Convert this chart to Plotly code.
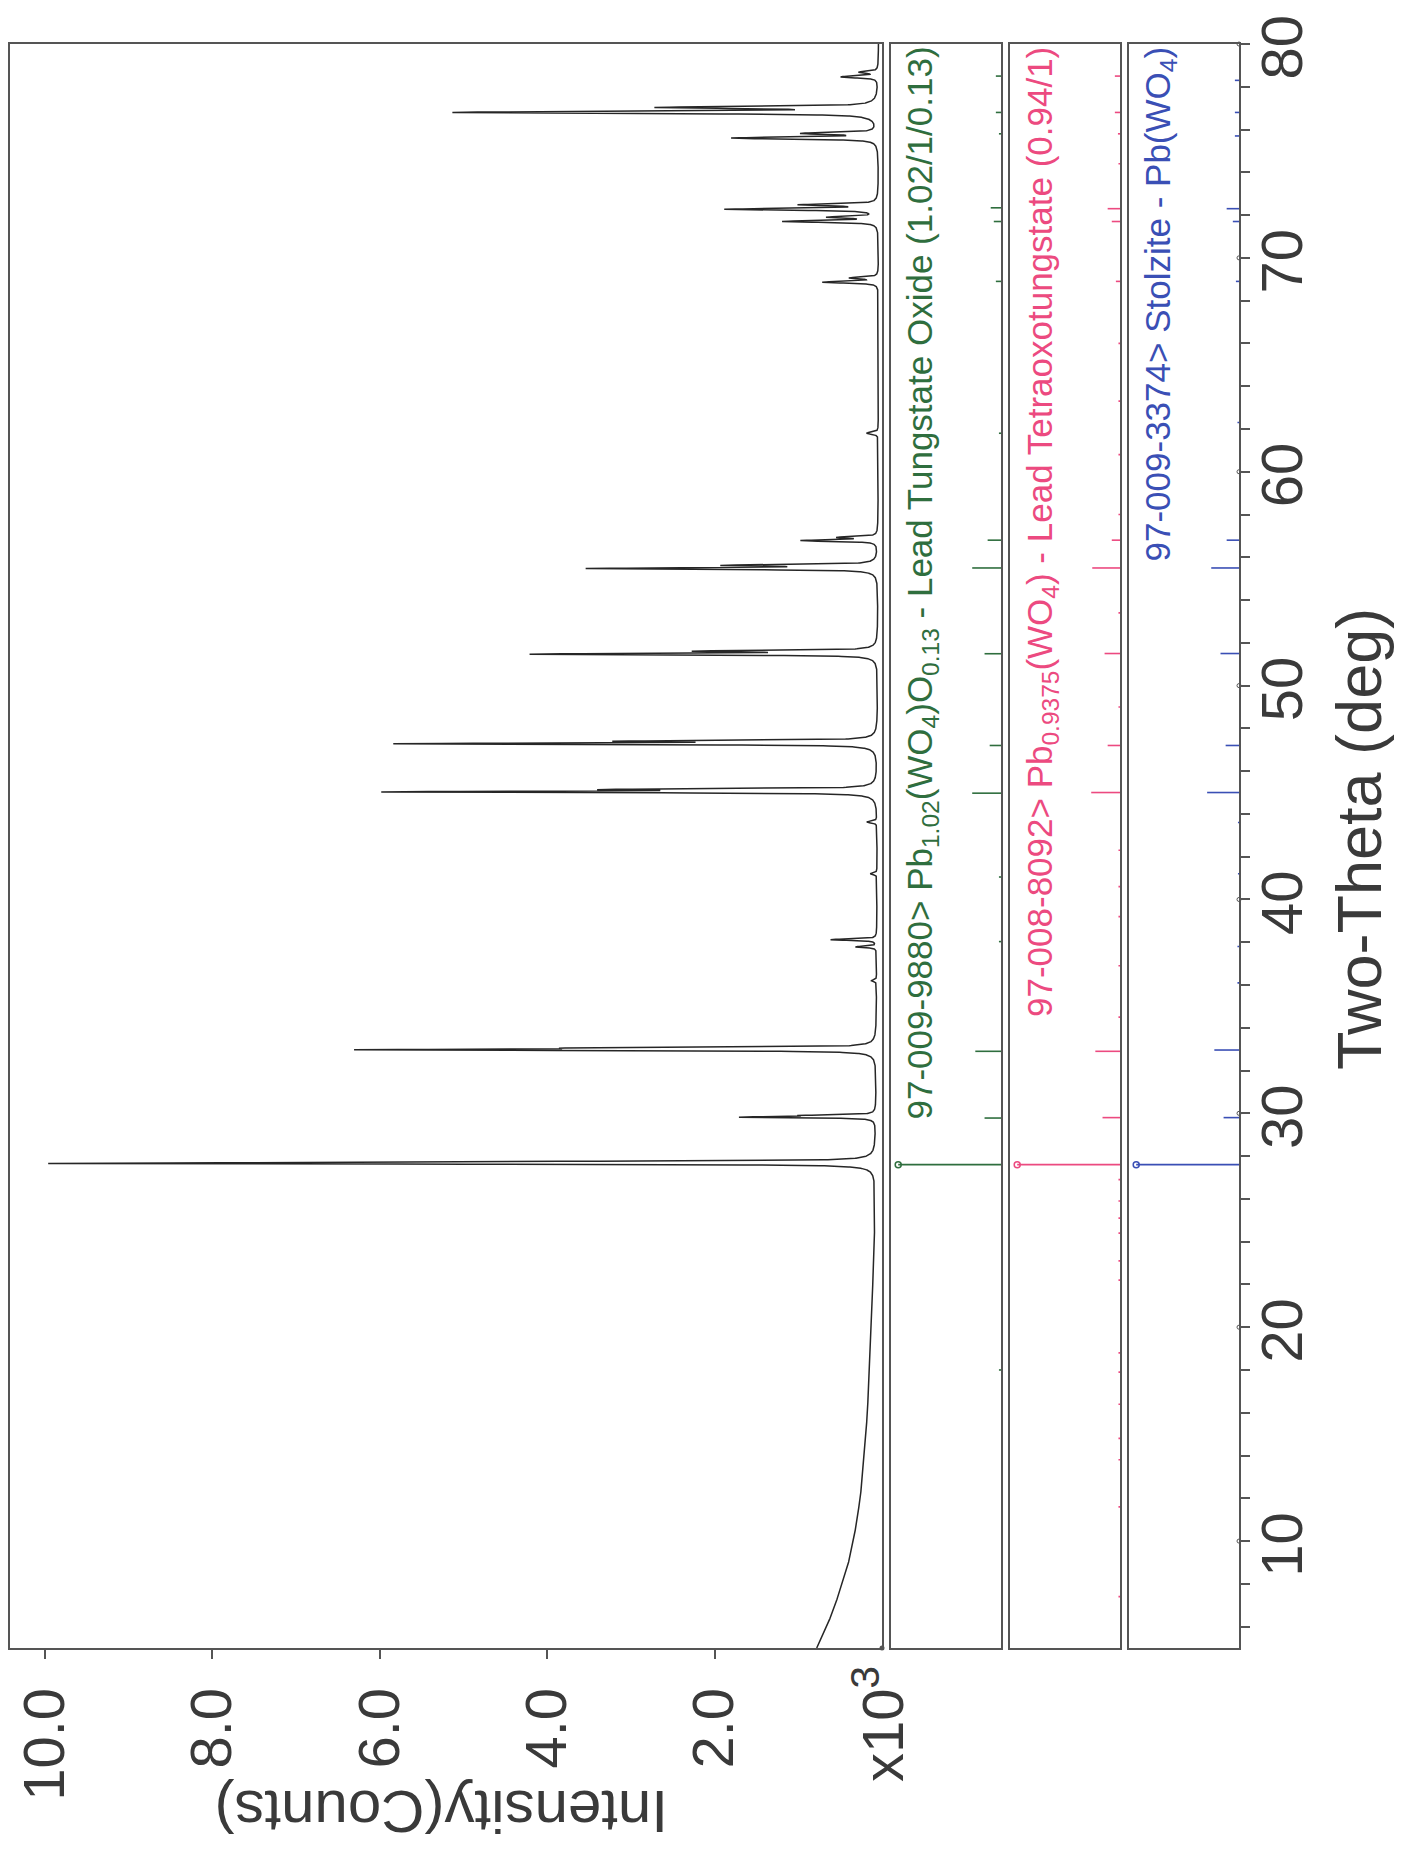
import numpy as np
import plotly.graph_objects as go

# ---------------- data ----------------
# measured pattern: background points (2-theta deg, counts x10^3)
bg_2theta = [5, 6, 7, 8, 9, 10, 12, 14, 16, 18, 20, 22, 24, 27, 30, 35, 40, 50, 60, 70, 80]
bg_counts = [0.78, 0.66, 0.56, 0.48, 0.40, 0.34, 0.26, 0.21, 0.175, 0.15, 0.13, 0.11,
             0.09, 0.08, 0.07, 0.065, 0.06, 0.05, 0.045, 0.04, 0.04]

# measured peaks (Ka1 and Ka2 components): position, height (x10^3 counts), FWHM (deg)
peak_2theta = [27.66, 27.73, 29.82, 29.90, 32.97, 33.05, 36.20, 37.78, 38.12, 41.20, 43.62,
               45.03, 45.14, 47.28, 47.40, 51.47, 51.61, 55.47, 55.62, 56.78, 56.93, 61.80,
               68.86, 69.06, 71.70, 71.90, 72.27, 72.48, 75.60, 75.82, 76.80, 77.03, 78.46, 78.68]
peak_height = [9.20, 4.50, 1.55, 0.75, 5.85, 2.95, 0.06, 0.25, 0.55, 0.08, 0.12,
               5.70, 2.90, 5.60, 2.80, 4.05, 2.00, 3.40, 1.70, 0.90, 0.45, 0.14,
               0.66, 0.33, 1.12, 0.56, 1.80, 0.90, 1.72, 0.86, 5.00, 2.50, 0.44, 0.22]
peak_fwhm = [0.07, 0.07, 0.07, 0.07, 0.075, 0.075, 0.10, 0.08, 0.08, 0.10, 0.10,
             0.08, 0.08, 0.08, 0.08, 0.085, 0.085, 0.09, 0.09, 0.09, 0.09, 0.12,
             0.10, 0.10, 0.10, 0.10, 0.10, 0.10, 0.11, 0.11, 0.11, 0.11, 0.11, 0.11]

# reference stick patterns (2-theta deg, relative intensity %)
green_2theta = [18.0, 27.60, 29.78, 32.90, 38.03, 41.05, 44.97, 47.20, 51.49, 55.50, 56.80,
                61.80, 68.90, 71.70, 72.34, 75.80, 76.80, 78.50]
green_int = [2, 100, 16, 25, 2, 2, 28, 11, 16, 28, 13, 2, 5, 7, 10, 2, 5, 5]

pink_2theta = [7.4, 11.6, 13.8, 14.8, 16.4, 17.9, 18.8, 22.2, 23.1, 24.4, 25.1, 25.9, 26.9,
               27.60, 29.80, 32.90, 34.5, 36.9, 39.2, 40.6, 42.3, 45.00, 47.20, 49.0, 51.50,
               53.4, 55.50, 56.80, 58.0, 60.8, 63.3, 66.0, 68.90, 71.70, 72.30, 74.4,
               75.80, 76.80, 78.50]
pink_int = [1.5, 1.5, 1.5, 1.5, 1.5, 1.5, 1.5, 1.5, 1.5, 1.5, 1.5, 1.5, 1.5,
            100, 17, 24, 1.5, 1.5, 1.5, 1.5, 1.5, 28, 12, 1.5, 15,
            1.5, 27, 8, 1.5, 1.5, 1.5, 1.5, 4, 8, 12, 1.5,
            2, 5, 5]

blue_2theta = [27.60, 29.80, 32.96, 36.10, 37.80, 41.20, 43.60, 45.00, 47.20, 51.50, 55.50,
               56.80, 62.30, 68.90, 71.70, 72.30, 75.70, 76.80, 78.30]
blue_int = [100, 15, 24, 1.5, 1.5, 1, 1, 31, 13, 18, 27, 12, 1.5, 3, 6, 12, 4, 4, 4]

int_ticks = [2, 4, 6, 8, 10]
int_ticktext = ["2.0", "4.0", "6.0", "8.0", "10.0"]
theta_ticks = [10, 20, 30, 40, 50, 60, 70, 80]

phase_labels = [
    "97-009-9880> Pb<sub>1.02</sub>(WO<sub>4</sub>)O<sub>0.13</sub> - Lead Tungstate Oxide (1.02/1/0.13)",
    "97-008-8092> Pb<sub>0.9375</sub>(WO<sub>4</sub>) - Lead Tetraoxotungstate (0.94/1)",
    "97-009-3374> Stolzite - Pb(WO<sub>4</sub>)",
]
phase_colors = ["#2f6e3e", "#ec4a80", "#3a4fb5"]

# ---------------- build the profile ----------------
theta = np.arange(5.0, 80.0001, 0.005)
counts = np.interp(theta, bg_2theta, bg_counts)
eta = 0.65
for p, h, w in zip(peak_2theta, peak_height, peak_fwhm):
    d = (theta - p) / (w / 2.0)
    counts = counts + h * (eta / (1 + d ** 2) + (1 - eta) * np.exp(-np.log(2) * d ** 2))

# ---------------- geometry (page pixels -> paper) ----------------
W, H, OFF = 1388, 1840, 8


def px(x):
    return (x - OFF) / W


def py(y):
    return 1 - (y - OFF) / H


ydom = [py(1648), py(44)]
xdom_main = [px(10), px(882)]
panel_dom = [[px(891), px(1001)], [px(1010), px(1120)], [px(1129), px(1239)]]

FONT = "Liberation Sans, Arial, sans-serif"
TXT = "#3a3a3a"
LINE = "#555555"

fig = go.Figure()
fig.add_trace(go.Scatter(x=counts, y=theta, mode="lines",
                         line=dict(color="#262626", width=1.5),
                         xaxis="x", yaxis="y", showlegend=False, hoverinfo="skip"))
# origin dot of the intensity axis
fig.add_trace(go.Scatter(x=[0], y=[5], mode="markers", cliponaxis=False,
                         marker=dict(symbol="circle", size=5, color=LINE),
                         xaxis="x", yaxis="y", showlegend=False, hoverinfo="skip"))

sticks = [(green_2theta, green_int), (pink_2theta, pink_int), (blue_2theta, blue_int)]
for i, ((tt, ii), col) in enumerate(zip(sticks, phase_colors)):
    xs, ys = [], []
    for t, v in zip(tt, ii):
        xs += [0, v, None]
        ys += [t, t, None]
    ax = "x%d" % (i + 2)
    ay = "y%d" % (i + 2)
    fig.add_trace(go.Scatter(x=xs, y=ys, mode="lines", line=dict(color=col, width=1.6),
                             xaxis=ax, yaxis=ay, showlegend=False, hoverinfo="skip"))
    k = int(np.argmax(ii))
    fig.add_trace(go.Scatter(x=[ii[k]], y=[tt[k]], mode="markers",
                             marker=dict(symbol="circle-open", size=6, color=col, line=dict(width=1.5)),
                             xaxis=ax, yaxis=ay, showlegend=False, hoverinfo="skip", cliponaxis=False))

# small dots at the major two-theta ticks
fig.add_trace(go.Scatter(x=[0] * len(theta_ticks), y=theta_ticks, mode="markers", cliponaxis=False,
                         marker=dict(symbol="circle-open", size=4, color=LINE, line=dict(width=1)),
                         xaxis="x4", yaxis="y4", showlegend=False, hoverinfo="skip"))

frame = dict(showline=True, linecolor=LINE, linewidth=1.5, mirror=True,
             showgrid=False, zeroline=False, automargin=False)

layout = dict(
    width=W, height=H, margin=dict(l=0, r=0, t=0, b=0, autoexpand=False),
    paper_bgcolor="white", plot_bgcolor="white",
    font=dict(family=FONT, color=TXT),
    xaxis=dict(domain=xdom_main, range=[10.418, 0], anchor="y",
               tickmode="array", tickvals=int_ticks, ticktext=int_ticktext,
               tickangle=-90, ticks="outside", ticklen=9, tickwidth=1.5, tickcolor=LINE,
               tickfont=dict(size=58, color=TXT, family=FONT), ticklabelstandoff=6, **frame),
    yaxis=dict(domain=ydom, range=[5, 80], anchor="x", showticklabels=False, ticks="", **frame),
)
for i in range(3):
    n = i + 2
    layout["xaxis%d" % n] = dict(domain=panel_dom[i], range=[107, 0], anchor="y%d" % n,
                                 showticklabels=False, ticks="", **frame)
    yd = dict(domain=ydom, range=[5, 80], anchor="x%d" % n, showticklabels=False, ticks="", **frame)
    if n == 4:
        yd.update(dict(side="right", showticklabels=True, tickmode="array", tickvals=theta_ticks,
                       ticktext=[str(t) for t in theta_ticks], ticklabeloverflow="allow",
                       tickangle=-90, ticks="", ticklen=0, ticklabelstandoff=-8,
                       ticklabelshift=12,
                       tickfont=dict(size=58, color=TXT, family=FONT),
                       minor=dict(tickmode="linear", tick0=0, dtick=2, ticks="outside", ticklen=9,
                                  tickcolor=LINE, tickwidth=1.5)))
    layout["yaxis%d" % n] = yd

ann = []
label_x = [921, 1042, 1160]
for lx, txt, col in zip(label_x, phase_labels, phase_colors):
    ann.append(dict(x=px(lx), y=py(45), xref="paper", yref="paper", text=txt, showarrow=False,
                    textangle=-90, xanchor="center", yanchor="top",
                    font=dict(size=35, color=col, family=FONT)))
ann.append(dict(x=px(1359), y=py(839), xref="paper", yref="paper", text="Two-Theta (deg)",
                showarrow=False, textangle=-90, xanchor="center", yanchor="middle",
                font=dict(size=63, color=TXT, family=FONT)))
ann.append(dict(x=px(441), y=py(1812), xref="paper", yref="paper", text="Intensity(Counts)",
                showarrow=False, textangle=180, xanchor="center", yanchor="middle",
                font=dict(size=60, color=TXT, family=FONT)))
ann.append(dict(x=px(878), y=py(1724), xref="paper", yref="paper", text="x10<sup>3</sup>",
                showarrow=False, textangle=-90, xanchor="center", yanchor="middle",
                font=dict(size=58, color=TXT, family=FONT)))
layout["annotations"] = ann

fig.update_layout(**layout)
fig.write_html("out.html")
